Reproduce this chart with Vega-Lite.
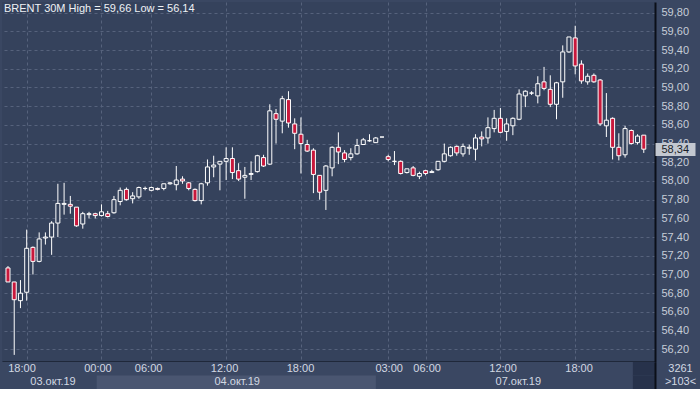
{
  "$schema": "https://vega.github.io/schema/vega-lite/v6.json",
  "background": "#3a4762",
  "padding": {"left": 2, "top": 2, "right": 0, "bottom": 0},
  "spacing": 0,
  "config": {"view": {"stroke": null}, "font": "Liberation Sans"},
  "datasets": {
    "candles": [
      {"i":0,"o":57.07,"h":57.09,"l":56.92,"c":56.92},
      {"i":1,"o":56.92,"h":56.92,"l":56.14,"c":56.73},
      {"i":2,"o":56.72,"h":56.94,"l":56.64,"c":56.80},
      {"i":3,"o":56.81,"h":57.48,"l":56.72,"c":57.28},
      {"i":4,"o":57.29,"h":57.30,"l":57.00,"c":57.14},
      {"i":5,"o":57.14,"h":57.45,"l":57.13,"c":57.38},
      {"i":6,"o":57.39,"h":57.45,"l":57.32,"c":57.40},
      {"i":7,"o":57.40,"h":57.57,"l":57.21,"c":57.55},
      {"i":8,"o":57.55,"h":57.97,"l":57.40,"c":57.76},
      {"i":9,"o":57.75,"h":57.98,"l":57.64,"c":57.76},
      {"i":10,"o":57.75,"h":57.84,"l":57.65,"c":57.73},
      {"i":11,"o":57.72,"h":57.72,"l":57.51,"c":57.52},
      {"i":12,"o":57.54,"h":57.67,"l":57.49,"c":57.65},
      {"i":13,"o":57.64,"h":57.67,"l":57.60,"c":57.65},
      {"i":14,"o":57.65,"h":57.66,"l":57.60,"c":57.63},
      {"i":15,"o":57.63,"h":57.75,"l":57.62,"c":57.67},
      {"i":16,"o":57.65,"h":57.68,"l":57.61,"c":57.62},
      {"i":17,"o":57.66,"h":57.84,"l":57.65,"c":57.80},
      {"i":18,"o":57.78,"h":57.93,"l":57.74,"c":57.90},
      {"i":19,"o":57.91,"h":57.93,"l":57.79,"c":57.80},
      {"i":20,"o":57.81,"h":57.88,"l":57.76,"c":57.84},
      {"i":21,"o":57.83,"h":57.94,"l":57.81,"c":57.93},
      {"i":22,"o":57.92,"h":57.94,"l":57.90,"c":57.92},
      {"i":23,"o":57.90,"h":57.94,"l":57.89,"c":57.93},
      {"i":24,"o":57.92,"h":57.93,"l":57.90,"c":57.91},
      {"i":25,"o":57.92,"h":57.97,"l":57.90,"c":57.97},
      {"i":26,"o":57.97,"h":57.99,"l":57.96,"c":57.98},
      {"i":27,"o":57.96,"h":58.16,"l":57.90,"c":58.01},
      {"i":28,"o":58.02,"h":58.05,"l":57.97,"c":58.00},
      {"i":29,"o":57.98,"h":57.99,"l":57.90,"c":57.92},
      {"i":30,"o":57.91,"h":57.92,"l":57.78,"c":57.79},
      {"i":31,"o":57.79,"h":57.98,"l":57.75,"c":57.97},
      {"i":32,"o":57.98,"h":58.23,"l":57.95,"c":58.15},
      {"i":33,"o":58.15,"h":58.27,"l":58.04,"c":58.17},
      {"i":34,"o":58.18,"h":58.21,"l":57.90,"c":58.21},
      {"i":35,"o":58.21,"h":58.36,"l":58.01,"c":58.24},
      {"i":36,"o":58.24,"h":58.36,"l":58.02,"c":58.09},
      {"i":37,"o":58.11,"h":58.19,"l":58.00,"c":58.02},
      {"i":38,"o":58.04,"h":58.15,"l":57.81,"c":58.06},
      {"i":39,"o":58.07,"h":58.21,"l":58.01,"c":58.08},
      {"i":40,"o":58.10,"h":58.28,"l":58.09,"c":58.27},
      {"i":41,"o":58.25,"h":58.28,"l":58.15,"c":58.16},
      {"i":42,"o":58.18,"h":58.82,"l":58.17,"c":58.75},
      {"i":43,"o":58.72,"h":58.77,"l":58.40,"c":58.66},
      {"i":44,"o":58.64,"h":58.91,"l":58.51,"c":58.88},
      {"i":45,"o":58.87,"h":58.96,"l":58.57,"c":58.62},
      {"i":46,"o":58.61,"h":58.67,"l":58.34,"c":58.51},
      {"i":47,"o":58.50,"h":58.68,"l":58.08,"c":58.40},
      {"i":48,"o":58.39,"h":58.44,"l":58.31,"c":58.32},
      {"i":49,"o":58.33,"h":58.35,"l":57.87,"c":58.07},
      {"i":50,"o":58.06,"h":58.06,"l":57.80,"c":57.88},
      {"i":51,"o":57.90,"h":58.17,"l":57.69,"c":58.16},
      {"i":52,"o":58.14,"h":58.37,"l":58.05,"c":58.36},
      {"i":53,"o":58.36,"h":58.52,"l":58.18,"c":58.31},
      {"i":54,"o":58.30,"h":58.33,"l":58.20,"c":58.23},
      {"i":55,"o":58.25,"h":58.35,"l":58.22,"c":58.29},
      {"i":56,"o":58.29,"h":58.45,"l":58.28,"c":58.38},
      {"i":57,"o":58.39,"h":58.46,"l":58.39,"c":58.44},
      {"i":58,"o":58.43,"h":58.50,"l":58.42,"c":58.43},
      {"i":59,"o":58.41,"h":58.47,"l":58.41,"c":58.46},
      {"i":60,"o":58.47,"h":58.47,"l":58.47,"c":58.47},
      {"i":61,"o":58.26,"h":58.28,"l":58.21,"c":58.23},
      {"i":62,"o":58.21,"h":58.32,"l":58.17,"c":58.21},
      {"i":63,"o":58.21,"h":58.22,"l":58.07,"c":58.08},
      {"i":64,"o":58.09,"h":58.13,"l":58.08,"c":58.13},
      {"i":65,"o":58.14,"h":58.16,"l":58.05,"c":58.06},
      {"i":66,"o":58.05,"h":58.10,"l":58.02,"c":58.08},
      {"i":67,"o":58.11,"h":58.12,"l":58.06,"c":58.08},
      {"i":68,"o":58.09,"h":58.12,"l":58.09,"c":58.10},
      {"i":69,"o":58.12,"h":58.21,"l":58.11,"c":58.21},
      {"i":70,"o":58.21,"h":58.40,"l":58.20,"c":58.29},
      {"i":71,"o":58.27,"h":58.37,"l":58.26,"c":58.36},
      {"i":72,"o":58.37,"h":58.38,"l":58.27,"c":58.30},
      {"i":73,"o":58.29,"h":58.40,"l":58.26,"c":58.37},
      {"i":74,"o":58.35,"h":58.39,"l":58.28,"c":58.36},
      {"i":75,"o":58.34,"h":58.50,"l":58.22,"c":58.46},
      {"i":76,"o":58.47,"h":58.53,"l":58.37,"c":58.45},
      {"i":77,"o":58.46,"h":58.68,"l":58.40,"c":58.57},
      {"i":78,"o":58.56,"h":58.76,"l":58.52,"c":58.67},
      {"i":79,"o":58.67,"h":58.78,"l":58.51,"c":58.52},
      {"i":80,"o":58.53,"h":58.67,"l":58.43,"c":58.61},
      {"i":81,"o":58.59,"h":58.68,"l":58.49,"c":58.67},
      {"i":82,"o":58.66,"h":58.98,"l":58.65,"c":58.93},
      {"i":83,"o":58.91,"h":58.97,"l":58.79,"c":58.96},
      {"i":84,"o":58.94,"h":58.96,"l":58.92,"c":58.94},
      {"i":85,"o":58.91,"h":59.12,"l":58.83,"c":59.04},
      {"i":86,"o":59.06,"h":59.22,"l":58.97,"c":58.99},
      {"i":87,"o":58.98,"h":59.13,"l":58.79,"c":58.82},
      {"i":88,"o":58.82,"h":59.06,"l":58.66,"c":59.05},
      {"i":89,"o":59.06,"h":59.45,"l":58.89,"c":59.38},
      {"i":90,"o":59.38,"h":59.54,"l":59.37,"c":59.54},
      {"i":91,"o":59.53,"h":59.66,"l":59.14,"c":59.23},
      {"i":92,"o":59.25,"h":59.29,"l":59.04,"c":59.07},
      {"i":93,"o":59.06,"h":59.15,"l":59.03,"c":59.12},
      {"i":94,"o":59.13,"h":59.15,"l":59.05,"c":59.06},
      {"i":95,"o":59.08,"h":59.09,"l":58.59,"c":58.61},
      {"i":96,"o":58.59,"h":58.94,"l":58.47,"c":58.65},
      {"i":97,"o":58.67,"h":58.68,"l":58.23,"c":58.36},
      {"i":98,"o":58.36,"h":58.51,"l":58.22,"c":58.27},
      {"i":99,"o":58.28,"h":58.59,"l":58.25,"c":58.56},
      {"i":100,"o":58.54,"h":58.55,"l":58.39,"c":58.40},
      {"i":101,"o":58.41,"h":58.50,"l":58.39,"c":58.48},
      {"i":102,"o":58.49,"h":58.49,"l":58.30,"c":58.34}
    ],
    "bands": [
      {"a":14.8,"b":58.9,"row":"date","kind":"light"},
      {"a":99.5,"b":103,"row":"time","kind":"dark"},
      {"a":99.5,"b":103,"row":"date","kind":"dark"}
    ],
    "labels": [
      {"i":3,"row":"time","t":"18:00"},
      {"i":15,"row":"time","t":"00:00"},
      {"i":23,"row":"time","t":"06:00"},
      {"i":35,"row":"time","t":"12:00"},
      {"i":47,"row":"time","t":"18:00"},
      {"i":61,"row":"time","t":"03:00"},
      {"i":67,"row":"time","t":"06:00"},
      {"i":79,"row":"time","t":"12:00"},
      {"i":91,"row":"time","t":"18:00"},
      {"i":7.9,"row":"date","t":"03.окт.19"},
      {"i":37,"row":"date","t":"04.окт.19"},
      {"i":81.4,"row":"date","t":"07.окт.19"}
    ],
    "last": [{"i":102,"v":58.34}]
  },
  "vconcat": [
    {
      "width": 653,
      "height": 360,
      "view": {"fill": "#35425c", "stroke": null},
      "title": {"text": "BRENT 30M High = 59,66 Low = 56,14", "anchor": "start", "frame": "group", "offset": -12, "fontSize": 11, "fontWeight": "normal", "color": "#eef1f5", "font": "Liberation Sans", "dx": 2},
      "layer": [
        {
          "data": {"name": "candles"},
          "mark": {"type": "rule", "color": "#ffffff", "strokeWidth": 1, "clip": true},
          "encoding": {
            "x": {"field": "i", "type": "quantitative", "scale": {"domain": [-0.16, 103], "nice": false, "zero": false},
              "axis": {"values": [3,15,23,35,47,61,67,79,91], "labels": false, "ticks": false, "grid": true, "gridDash": [3,3], "gridColor": "#56627c", "domain": true, "domainColor": "#0b0f18", "domainWidth": 2, "title": null}},
            "y": {"field": "l", "type": "quantitative", "scale": {"domain": [56.064, 59.914], "nice": false, "zero": false},
              "axis": {"orient": "right", "values": [56.2,56.4,56.6,56.8,57.0,57.2,57.4,57.6,57.8,58.0,58.2,58.4,58.6,58.8,59.0,59.2,59.4,59.6,59.8], "labelExpr": "replace(format(datum.value, '.2f'), '.', ',')", "grid": true, "gridDash": [3,3], "gridColor": "#56627c", "ticks": false, "domain": true, "domainColor": "#0b0f18", "domainWidth": 2, "labelPadding": 6, "labelColor": "#c6cdd8", "labelFontSize": 11, "labelFont": "Liberation Sans", "title": null}},
            "y2": {"field": "h"}
          }
        },
        {
          "data": {"name": "candles"},
          "mark": {"type": "bar", "size": 4, "stroke": "#ffffff", "strokeWidth": 1, "clip": true},
          "encoding": {
            "x": {"field": "i", "type": "quantitative"},
            "y": {"field": "o", "type": "quantitative", "axis": null},
            "y2": {"field": "c"},
            "fill": {"condition": {"test": "datum.c < datum.o", "value": "#c8183c"}, "value": "#35425c"}
          }
        },
        {
          "data": {"name": "last"},
          "mark": {"type": "point", "opacity": 0},
          "encoding": {
            "x": {"field": "i", "type": "quantitative"},
            "y": {"field": "v", "type": "quantitative",
              "axis": {"orient": "right", "values": [58.34], "labelExpr": "'58,34'", "grid": false, "domain": false, "ticks": true, "tickSize": 40, "tickWidth": 13, "tickColor": "#c3c8d0", "labelPadding": -34, "labelColor": "#1a1f2a", "labelFontSize": 11, "labelFont": "Liberation Sans", "title": null}}
          }
        }
      ],
      "resolve": {"axis": {"y": "independent"}}
    },
    {
      "width": 653,
      "height": 27,
      "view": {"fill": "#3a4762", "stroke": null},
      "layer": [
        {
          "data": {"name": "bands"},
          "mark": {"type": "rect"},
          "encoding": {
            "x": {"field": "a", "type": "quantitative", "scale": {"domain": [-0.16, 103], "nice": false, "zero": false}, "axis": null},
            "x2": {"field": "b"},
            "y": {"field": "row", "type": "nominal", "scale": {"domain": ["time", "date"], "paddingInner": 0, "paddingOuter": 0},
              "axis": {"orient": "right", "title": null, "ticks": false, "domain": true, "domainColor": "#0b0f18", "domainWidth": 2, "labelExpr": "datum.value == 'time' ? '3261' : '>103<'", "labelAlign": "center", "labelPadding": 25, "labelColor": "#d2d8e2", "labelFontSize": 11, "labelFont": "Liberation Sans"}},
            "color": {"field": "kind", "type": "nominal", "scale": {"domain": ["light", "dark"], "range": ["#4a5671", "#27324b"]}, "legend": null}
          }
        },
        {
          "data": {"name": "labels"},
          "mark": {"type": "text", "fontSize": 11, "color": "#d2d8e2", "font": "Liberation Sans"},
          "encoding": {
            "x": {"field": "i", "type": "quantitative"},
            "y": {"field": "row", "type": "nominal"},
            "text": {"field": "t"}
          }
        }
      ]
    }
  ]
}
